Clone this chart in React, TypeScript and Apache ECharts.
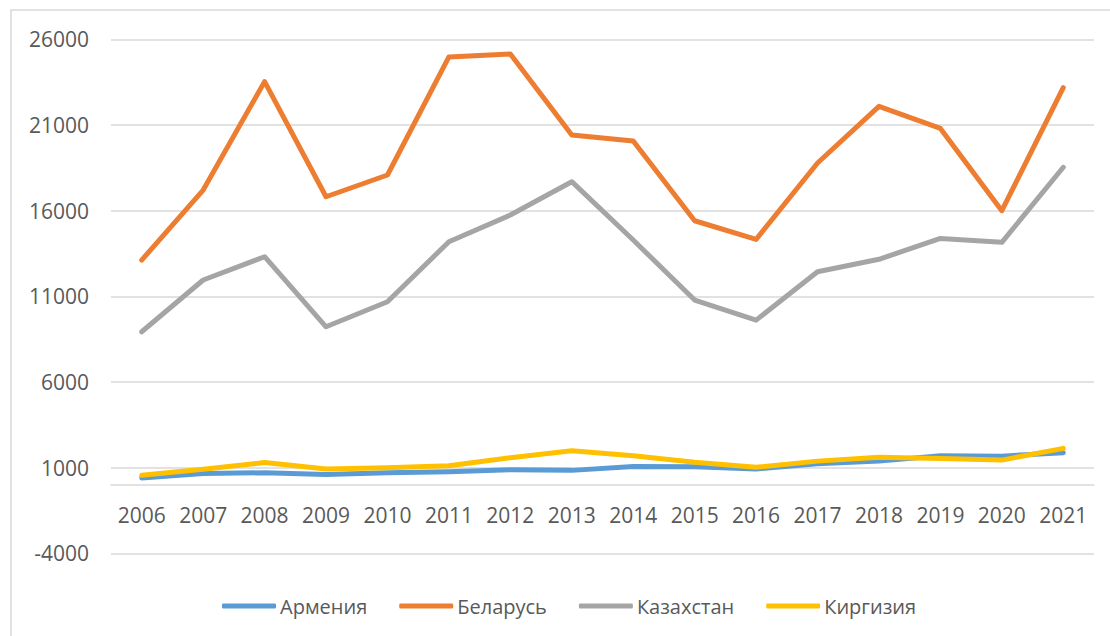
import React, { useEffect, useRef } from "react";
import * as echarts from "echarts";

const years = ["2006","2007","2008","2009","2010","2011","2012","2013","2014","2015","2016","2017","2018","2019","2020","2021"];
const armenia = [400, 660, 700, 600, 700, 760, 880, 840, 1070, 1050, 920, 1225, 1380, 1690, 1670, 1870];
const belarus = [13116, 17200, 23530, 16810, 18080, 24970, 25140, 20410, 20060, 15410, 14320, 18780, 22090, 20800, 16000, 23180];
const kazakhstan = [8930, 11950, 13310, 9220, 10680, 14185, 15743, 17690, 14285, 10780, 9610, 12430, 13160, 14380, 14150, 18530];
const kyrgyzstan = [550, 900, 1300, 915, 990, 1110, 1580, 1990, 1690, 1310, 1020, 1380, 1600, 1540, 1440, 2125];
const seriesNames = ["Армения", "Беларусь", "Казахстан", "Киргизия"];
const seriesColors = ["#5B9BD5", "#ED7D31", "#A5A5A5", "#FFC000"];
const seriesData = [armenia, belarus, kazakhstan, kyrgyzstan];

export default function App() {
  const ref = useRef<HTMLDivElement>(null);
  useEffect(() => {
    document.body.style.margin = "0";
    const chart = echarts.init(ref.current!, undefined, { renderer: "svg" });
    const font = "'Open Sans', sans-serif";
    chart.setOption({
      animation: false,
      backgroundColor: "#ffffff",
      textStyle: { fontFamily: font },
      graphic: [
        {
          type: "rect",
          shape: { x: 11, y: 10, width: 1200, height: 700 },
          style: { fill: "none", stroke: "#D9D9D9", lineWidth: 1.5 },
          silent: true,
        },
      ],
      grid: { left: 111, right: 16, top: 39.3, bottom: 82.7 },
      legend: {
        left: 217,
        top: 591,
        icon: "roundRect",
        itemWidth: 54,
        itemHeight: 5,
        itemGap: 32,
        textStyle: { fontFamily: font, fontSize: 20, color: "#595959", padding: [0, 0, 0, -1] },
        data: seriesNames,
      },
      xAxis: {
        type: "category",
        data: years,
        boundaryGap: true,
        axisLine: { onZero: true, lineStyle: { color: "#D9D9D9", width: 1.5 } },
        axisTick: { show: false },
        axisLabel: { color: "#595959", fontSize: 21, fontFamily: font, margin: -49, interval: 0 },
      },
      yAxis: {
        type: "value",
        min: -4000,
        max: 26000,
        interval: 5000,
        axisLine: { show: false },
        axisTick: { show: false },
        axisLabel: {
          color: "#595959",
          fontSize: 21,
          fontFamily: font,
          margin: 22,
          formatter: (v: number) => String(v),
        },
        splitLine: { lineStyle: { color: "#D9D9D9", width: 1.5 } },
      },
      series: seriesNames.map((name, i) => ({
        name,
        type: "line",
        data: seriesData[i],
        symbol: "none",
        color: seriesColors[i],
        lineStyle: { width: 5, color: seriesColors[i], cap: "round", join: "round" },
      })),
    });
    return () => chart.dispose();
  }, []);
  return <div ref={ref} style={{ width: 1110, height: 636 }} />;
}
